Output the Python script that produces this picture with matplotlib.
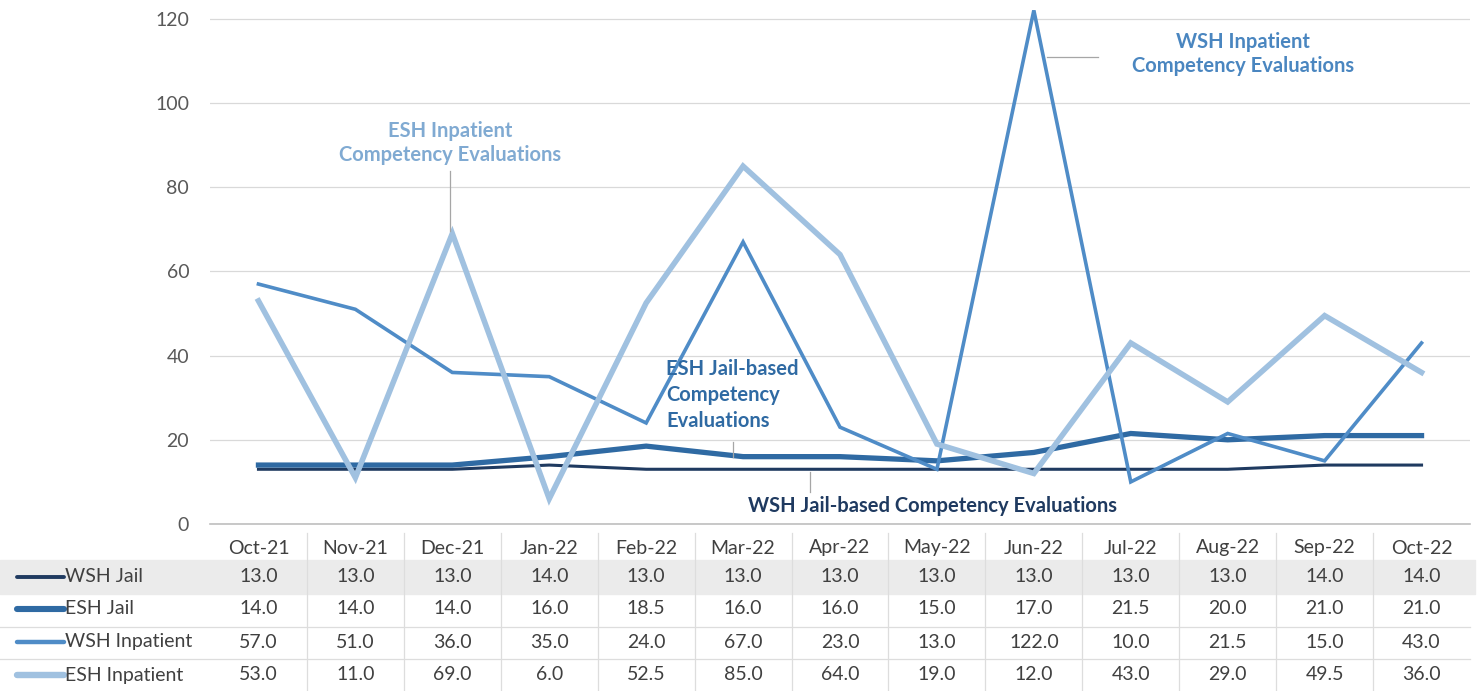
import matplotlib
matplotlib.use("Agg")
import matplotlib.pyplot as plt
import matplotlib.transforms as mtransforms
from matplotlib.patches import Rectangle

plt.rcParams['font.family'] = ['Lato', 'DejaVu Sans']

months = ['Oct-21', 'Nov-21', 'Dec-21', 'Jan-22', 'Feb-22', 'Mar-22', 'Apr-22',
          'May-22', 'Jun-22', 'Jul-22', 'Aug-22', 'Sep-22', 'Oct-22']
wsh_jail = [13, 13, 13, 14, 13, 13, 13, 13, 13, 13, 13, 14, 14]
esh_jail = [14, 14, 14, 16, 18.5, 16, 16, 15, 17, 21.5, 20, 21, 21]
wsh_inpatient = [57, 51, 36, 35, 24, 67, 23, 13, 122, 10, 21.5, 15, 43]
esh_inpatient = [53, 11, 69, 6, 52.5, 85, 64, 19, 12, 43, 29, 49.5, 36]

series_names = ['WSH Jail', 'ESH Jail', 'WSH Inpatient', 'ESH Inpatient']
series_data = [wsh_jail, esh_jail, wsh_inpatient, esh_inpatient]
colors = ['#1F3A60', '#2F6AA3', '#4F8CC7', '#A0C1E0']
widths = [2.2, 3.8, 2.6, 4.0]

W, H = 1478, 691
fig = plt.figure(figsize=(W / 100, H / 100), dpi=100)


def box(x0, y0, x1, y1):
    return [x0 / W, 1 - y1 / H, (x1 - x0) / W, (y1 - y0) / H]


ax = fig.add_axes(box(210, 2, 1470, 524))
x = list(range(len(months)))
for name, d, c, lw in zip(series_names, series_data, colors, widths):
    ax.plot(x, d, color=c, lw=lw, solid_joinstyle='miter', zorder=3)

ax.set_xlim(-0.5, len(months) - 0.5)
ax.set_ylim(0, 124)
ax.set_yticks(range(0, 121, 20))
ax.set_xticks([])
ax.tick_params(axis='y', length=0, pad=15, labelsize=14, labelcolor='#595959')
ax.grid(axis='y', color='#D9D9D9', lw=0.9)
ax.set_axisbelow(True)
for s in ['top', 'right', 'left']:
    ax.spines[s].set_visible(False)
ax.spines['bottom'].set_color('#BFBFBF')
ax.spines['bottom'].set_linewidth(1.2)

# overlay in pixel coordinates for table and annotations
tax = fig.add_axes([0, 0, 1, 1])
tax.set_xlim(0, W)
tax.set_ylim(H, 0)
tax.axis('off')
tax.patch.set_visible(False)
trans = mtransforms.blended_transform_factory(ax.transData, tax.transData)

# table
tax.add_patch(Rectangle((0, 560), 1475, 34, color='#EBEBEB', zorder=0))
for yy in [627, 659]:
    tax.plot([0, 1470], [yy, yy], color='#DDDDDD', lw=0.9)
for k in range(1, len(months)):
    tax.plot([k - 0.5, k - 0.5], [533, 691], color='#DDDDDD', lw=0.9, transform=trans)

for i, m in enumerate(months):
    tax.text(i, 548, m, ha='center', va='center', fontsize=14, color='#404040', transform=trans)

row_y = [577, 609, 642, 675]
for name, d, c, lw, ry in zip(series_names, series_data, colors, widths, row_y):
    tax.plot([17, 64], [ry, ry], color=c, lw=lw + 0.6, solid_capstyle='round')
    tax.text(65, ry, name, ha='left', va='center', fontsize=14, color='#404040')
    for i, v in enumerate(d):
        tax.text(i, ry, f'{v:.1f}', ha='center', va='center', fontsize=14,
                 color='#404040', transform=trans)

# annotations
tax.text(1243, 54, 'WSH Inpatient\nCompetency Evaluations', ha='center', va='center',
         fontsize=14.5, fontweight='bold', color='#4A86C0', linespacing=1.3)
tax.plot([1047, 1098], [57, 57], color='#A6A6A6', lw=0.9)

tax.text(450, 143, 'ESH Inpatient\nCompetency Evaluations', ha='center', va='center',
         fontsize=14.5, fontweight='bold', color='#80AAD2', linespacing=1.3)
tax.plot([450, 450], [171, 231], color='#A6A6A6', lw=0.9)

tax.text(666, 395, 'ESH Jail-based\nCompetency\nEvaluations', ha='left', va='center',
         fontsize=14.5, fontweight='bold', color='#2F6AA3', linespacing=1.4)
tax.plot([733, 733], [442, 457], color='#A6A6A6', lw=0.9)

tax.text(933, 506, 'WSH Jail-based Competency Evaluations', ha='center', va='center',
         fontsize=14.5, fontweight='bold', color='#1F3A60')
tax.plot([810, 810], [472, 492], color='#A6A6A6', lw=0.9)

fig.savefig('out.png', dpi=100)
